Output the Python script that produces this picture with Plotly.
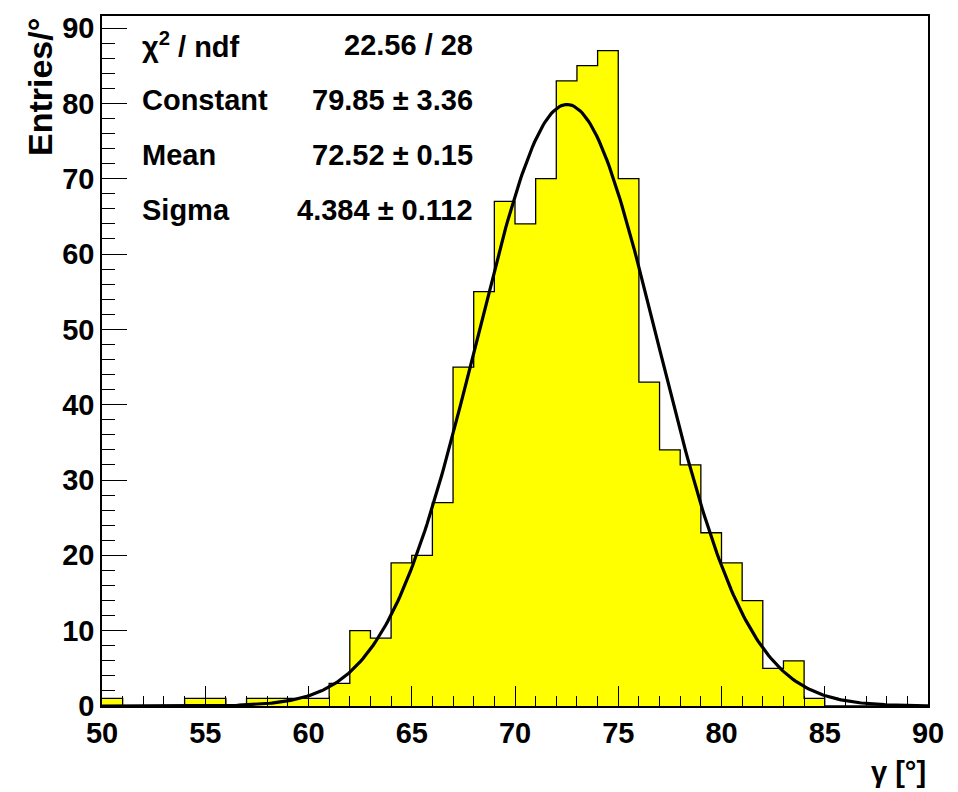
import numpy as np
import plotly.graph_objects as go

# Histogram data: 1-degree bins from 50 to 90
bin_edges = list(range(50, 91))
counts = [1, 0, 0, 0, 1, 1, 0, 1, 1, 1,
          1, 3, 10, 9, 19, 20, 27, 45, 55, 67,
          64, 70, 83, 85, 87, 70, 43, 34, 32, 23,
          19, 14, 5, 6, 1, 0, 0, 0, 0, 0]

# Gaussian fit parameters (from the stats box)
fit_constant = 79.85
fit_mean = 72.52
fit_sigma = 4.384

stat_labels = ["χ<sup>2</sup> / ndf", "Constant", "Mean", "Sigma"]
stat_values = ["22.56 / 28", "79.85 ± 3.36", "72.52 ± 0.15", "4.384 ± 0.112"]

x_ticks = [50, 55, 60, 65, 70, 75, 80, 85, 90]
y_ticks = [0, 10, 20, 30, 40, 50, 60, 70, 80, 90]

FONT = "Liberation Sans, Arial, sans-serif"

centers = [e + 0.5 for e in bin_edges[:-1]]

fig = go.Figure()
fig.add_trace(go.Bar(x=centers, y=counts, width=1.0,
                     marker=dict(color="#FFFF00", line=dict(width=0)),
                     showlegend=False, hoverinfo="skip"))
fig.add_trace(go.Scatter(x=bin_edges, y=counts + [counts[-1]], mode="lines",
                         line=dict(color="black", width=1.3, shape="hv"),
                         showlegend=False, hoverinfo="skip"))

xf = np.linspace(50, 90, 400)
yf = fit_constant * np.exp(-0.5 * ((xf - fit_mean) / fit_sigma) ** 2)
fig.add_trace(go.Scatter(x=xf, y=yf, mode="lines",
                         line=dict(color="black", width=3.2),
                         showlegend=False, hoverinfo="skip"))

L, R, T, B = 102, 30, 16, 86
W, H = 958, 792
pw = W - L - R
ph = H - T - B

def px2paper_x(px):
    return (px - L) / pw

def px2paper_y(py):
    return (H - B - py) / ph

tickfont = dict(family=FONT, size=29, color="black", weight="bold")

fig.update_layout(
    width=W, height=H,
    margin=dict(l=L, r=R, t=T, b=B),
    paper_bgcolor="white", plot_bgcolor="white",
    bargap=0,
    xaxis=dict(range=[50, 90], tickvals=x_ticks, ticktext=[str(v) for v in x_ticks],
               ticks="inside", ticklen=20, tickwidth=1.2, tickcolor="black",
               minor=dict(dtick=1, ticks="inside", ticklen=10, tickwidth=1.2, tickcolor="black"),
               showline=True, linecolor="black", linewidth=1.6, mirror=True,
               showgrid=False, zeroline=False, tickfont=tickfont),
    yaxis=dict(range=[0, 91.6], tickvals=y_ticks, ticktext=[str(v) for v in y_ticks],
               ticks="inside", ticklen=25, tickwidth=1.2, tickcolor="black",
               minor=dict(dtick=2, ticks="inside", ticklen=13, tickwidth=1.2, tickcolor="black"),
               showline=True, linecolor="black", linewidth=1.6, mirror=True,
               showgrid=False, zeroline=False, tickfont=tickfont),
)

annfont = dict(family=FONT, size=29, color="black", weight="bold")
titlefont = dict(family=FONT, size=34, color="black", weight="bold")

# Axis titles
fig.add_annotation(text="Entries/°", xref="paper", yref="paper",
                   x=px2paper_x(40), y=1.0, xanchor="center", yanchor="top",
                   textangle=-90, showarrow=False, font=titlefont)
fig.add_annotation(text="γ [°]", xref="paper", yref="paper",
                   x=1.0, y=px2paper_y(772), xanchor="right", yanchor="middle",
                   showarrow=False, font=annfont)

# Stats box text
row_y = [45, 100, 155, 210]
for lab, val, ry in zip(stat_labels, stat_values, row_y):
    fig.add_annotation(text=lab, xref="paper", yref="paper",
                       x=px2paper_x(140), y=px2paper_y(ry), xanchor="left", yanchor="middle",
                       showarrow=False, font=annfont)
    fig.add_annotation(text=val, xref="paper", yref="paper",
                       x=px2paper_x(475), y=px2paper_y(ry), xanchor="right", yanchor="middle",
                       showarrow=False, font=annfont)

fig.write_html("out.html")
